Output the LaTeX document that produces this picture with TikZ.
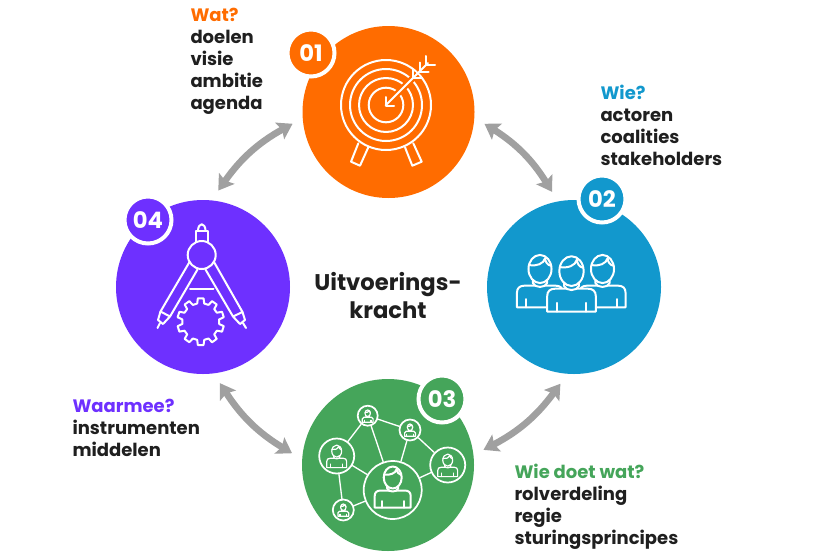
\documentclass[tikz,border=0pt]{standalone}
\usepackage{fontspec}
\setmainfont{Poppins}
\definecolor{oranje}{RGB}{255,108,0}
\definecolor{blauw}{RGB}{18,152,205}
\definecolor{groen}{RGB}{69,165,90}
\definecolor{paars}{RGB}{110,48,255}
\definecolor{pijl}{RGB}{160,160,160}
\tikzset{
	every picture/.style={line width=0.75pt},
	schijf/.style={circle,minimum size=#1*0.75pt,inner sep=0pt,outer sep=8pt},
	nummer/.style={circle,fill=#1,draw=white,line width=3pt,minimum size=47*0.75pt,inner sep=0pt,text=white,font=\fontsize{17}{17}\selectfont\bfseries},
	tekst/.style={anchor=north west,align=left,inner sep=0pt,text=black!88,font=\fontsize{13.5}{16.5}\selectfont\bfseries},
	lijn/.style={draw=white,line width=1.5pt,line join=round,line cap=round},
	dunlijn/.style={draw=white,line width=1pt,line join=round,line cap=round},
	pijlen/.style={draw=pijl,line width=5pt,{Stealth[width=14pt,length=11pt,inset=2pt]}-{Stealth[width=14pt,length=11pt,inset=2pt]}},
	kring/.style={circle,draw=white,line width=1.3pt,fill=groen,inner sep=0pt,minimum size=#1*0.75pt},
}
\usetikzlibrary{arrows.meta}
% one figure with shoulders, head at the origin's top
\newcommand{\persona}[4]{
	\begin{scope}[shift={(#1,#2)},scale=#3]
		\filldraw[fill=#4] (-18,17.5) -- (-18,6) .. controls (-18,2.5) and (-16,0.5) .. (-12,0.5) -- (12,0.5) .. controls (16,0.5) and (18,2.5) .. (18,6) -- (18,17.5) -- cycle;
		\draw (-11,17.5) -- (-11,11) (11,17.5) -- (11,11);
		\filldraw[fill=#4] (-5.5,-5) -- (-5.5,-1.5) .. controls (-4,2.5) and (4,2.5) .. (5.5,-1.5) -- (5.5,-5);
		\filldraw[fill=#4] (0,-12.5) ellipse (9 and 11);
		\draw (-8.6,-15.5) .. controls (-3,-14.5) and (3,-16.5) .. (4,-21) .. controls (4,-18) and (6,-15.5) .. (8.6,-15);
	\end{scope}
}

\begin{document}
\begin{tikzpicture}[x=0.75pt,y=0.75pt,yscale=-1,xscale=1]
	\useasboundingbox (0,0) rectangle (830,553);

	%Shape: Circles
	\node[schijf=172,fill=oranje] (schijf1) at (388.5,112) {};
	\node[schijf=174,fill=blauw] (schijf2) at (574,287) {};
	\node[schijf=172,fill=groen] (schijf3) at (388,465) {};
	\node[schijf=174,fill=paars] (schijf4) at (203,287) {};

	%Arrows
	\draw[pijlen] (schijf1.187) to[bend left=13] (schijf4.81);
	\draw[pijlen] (schijf1.353) to[bend right=13] (schijf2.103);
	\draw[pijlen] (schijf2.262) to[bend right=13] (schijf3.9);
	\draw[pijlen] (schijf4.280) to[bend left=13] (schijf3.173);

	%Shape: Target
	\begin{scope}[lijn]
		\draw (386,105) circle (45);
		\draw (386,105) circle (36);
		\draw (386,105) circle (27);
		\draw (386,105) circle (17.3);
		\draw (358.3,143.3) -- (351,161.7) -- (360,165.7) -- (368.3,147.3);
		\draw (413.3,143.3) -- (421.7,161.7) -- (412.3,165.7) -- (405,147.3);
		\draw[draw=oranje,line width=5pt,line cap=butt] (389,102) -- (417,74);
		\draw (385.5,105.5) -- (428,63);
		\draw (385.5,97) -- (385.5,105.5) -- (394,105.5);
		\foreach \d in {0,6.5,13}
			\draw (413+\d,69-\d) -- (413+\d,78-\d) -- (422+\d,78-\d);
	\end{scope}

	%Shape: Team
	\begin{scope}[lijn]
		\persona{540}{285}{1.28}{blauw}
		\persona{602.5}{285}{1.28}{blauw}
		\persona{571.5}{288}{1.35}{blauw}
	\end{scope}

	%Shape: Network
	\node[kring=58] (kring1) at (392.7,490) {};
	\node[kring=35] (kring2) at (336.7,456) {};
	\node[kring=20] (kring3) at (367.7,415.7) {};
	\node[kring=21] (kring4) at (410,430) {};
	\node[kring=35] (kring5) at (447.7,465) {};
	\node[kring=21] (kring6) at (343.3,510) {};
	\draw[dunlijn] (kring2) -- (kring3);
	\draw[dunlijn] (kring3) -- (kring1);
	\draw[dunlijn] (kring3) -- (kring4);
	\draw[dunlijn] (kring4) -- (kring1);
	\draw[dunlijn] (kring4) -- (kring5);
	\draw[dunlijn] (kring5) -- (kring1);
	\draw[dunlijn] (kring2) -- (kring1);
	\draw[dunlijn] (kring2) -- (kring6);
	\draw[dunlijn] (kring6) -- (kring1);
	\begin{scope}[lijn]
		\persona{392.7}{490}{1}{groen}
	\end{scope}
	\begin{scope}[dunlijn,line width=0.9pt]
		\persona{336.7}{458}{0.55}{groen}
		\persona{447.7}{467}{0.55}{groen}
		\persona{367.7}{417}{0.3}{groen}
		\persona{410}{431}{0.3}{groen}
		\persona{343.3}{511}{0.3}{groen}
	\end{scope}

	%Shape: Compass
	\begin{scope}[lijn]
		\draw (201.7,255) circle (14);
		\draw (195.7,241.5) -- (195.7,231) -- (207.7,231) -- (207.7,241.5);
		\draw (198,231) .. controls (198,222) and (205.5,222) .. (205.5,231);
		\draw (189.5,262) -- (160.5,311.5) -- (170,316.5) -- (197.5,269.5);
		\draw (214,262) -- (242.5,312) -- (233,316.5) -- (205.5,269.5);
		\draw (190,288.5) -- (213.5,288.5);
		\draw (160.5,311.5) -- (158,320) -- (163,324) -- (170,316.5);
		\draw (160,323) -- (157.5,328);
		\draw (242.5,312) -- (245,320) -- (240,324) -- (233,316.5);
		\draw (243,323) -- (246,328);
		\begin{scope}[shift={(200.7,321.7)}]
			\draw \foreach \a in {18,54,...,342} { (\a-11:18.5) -- (\a-7:23.5) -- (\a+7:23.5) -- (\a+11:18.5) -- (\a+25:18.5) };
		\end{scope}
	\end{scope}

	% Badges
	\node[nummer=oranje] (nummer1) at (311,53) {01};
	\node[nummer=blauw] (nummer2) at (602,199) {02};
	\node[nummer=groen] (nummer3) at (442,399) {03};
	\node[nummer=paars] (nummer4) at (148,220) {04};

	% Text Node
	\node[tekst] (wat) at (190,8) {\textcolor{oranje}{Wat?}\\doelen\\visie\\ambitie\\agenda};
	% Text Node
	\node[tekst] (wie) at (600,85) {\textcolor{blauw}{Wie?}\\actoren\\coalities\\stakeholders};
	% Text Node
	\node[tekst] (wiedoet) at (514,464) {\textcolor{groen}{Wie doet wat?}\\rolverdeling\\regie\\sturingsprincipes};
	% Text Node
	\node[tekst] (waarmee) at (72,399) {\textcolor{paars}{Waarmee?}\\instrumenten\\middelen};
	% Text Node
	\node[tekst,anchor=center,align=center,font=\fontsize{17}{21}\selectfont\bfseries] (titel) at (388,296) {Uitvoerings-\\kracht};
\end{tikzpicture}
\end{document}
